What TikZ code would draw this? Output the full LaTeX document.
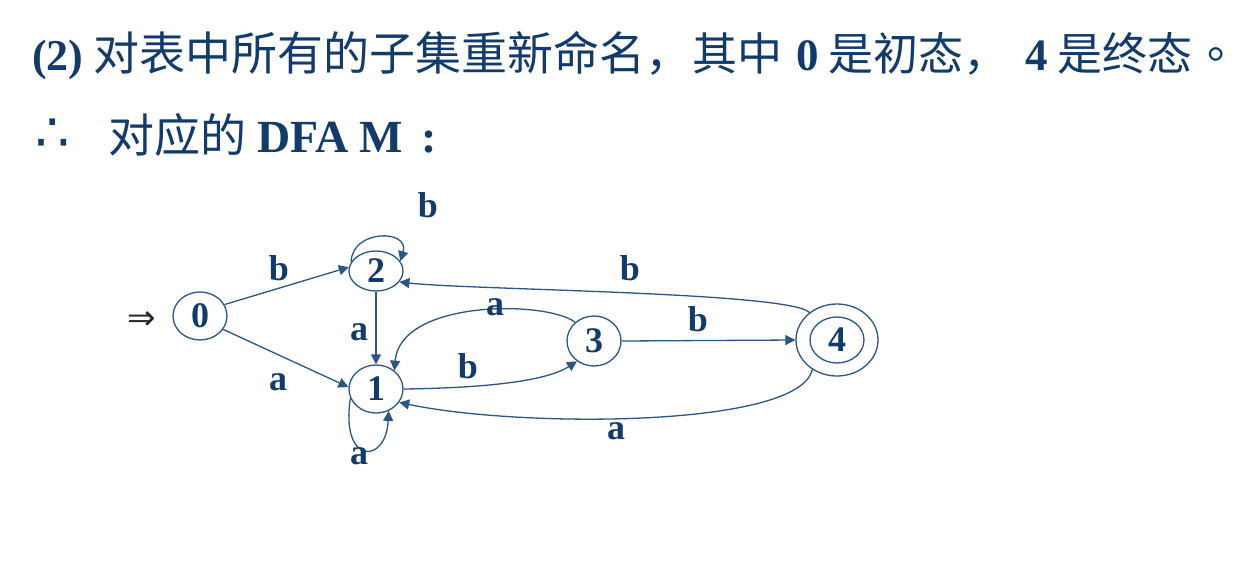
\documentclass[tikz,border=0pt]{standalone}
\usepackage{fontspec}
\setmainfont{Liberation Serif}
\newfontfamily\cjk{Noto Sans CJK SC}
\newfontfamily\cjktc{Noto Sans CJK TC}
\newfontfamily\dejavu{DejaVu Sans}
\usetikzlibrary{shapes.geometric,arrows.meta}
\definecolor{textblue}{HTML}{123B6B}
\definecolor{lineblue}{HTML}{2B5585}
\begin{document}
\begin{tikzpicture}[x=1pt,y=-1pt,
  st/.style={ellipse,draw=lineblue,line width=1.3pt,inner sep=0pt,text=textblue,
    font=\fontsize{36}{36}\selectfont\bfseries,minimum width=54pt,minimum height=48pt},
  lbl/.style={text=textblue,inner sep=0pt,font=\fontsize{36}{36}\selectfont\bfseries},
  edge/.style={draw=lineblue,line width=1.3pt,-{Triangle[length=10pt,width=10pt]}},
  ttl/.style={text=textblue,inner sep=0pt,anchor=base west,font=\fontsize{45}{45}\selectfont\bfseries},
  ttlc/.style={ttl,font=\cjk\fontsize{45}{45}\selectfont}]
\useasboundingbox (0,0) rectangle (1251,576);
% title line 1
\node[ttl,font=\fontsize{44}{44}\selectfont\bfseries] (t1a) at (32,70) {(2)};
\node[ttlc,font=\cjk\fontsize{46}{46}\selectfont] (t1b) at (93,70) {对表中所有的子集重新命名，};
\node[ttlc] (t1c) at (692,70) {其中};
\node[ttl] (t1d) at (796,70) {0};
\node[ttlc] (t1e) at (828,70) {是初态，};
\node[ttl] (t1f) at (1025,70) {4};
\node[ttlc] (t1g) at (1057,70) {是终态};
\node[text=textblue,inner sep=0pt,font=\cjktc\fontsize{45}{45}\selectfont] (t1h) at (1216,60) {。};
% title line 2
\node[text=textblue,inner sep=0pt,font=\dejavu\fontsize{54}{54}\selectfont] (th) at (53,135) {∴};
\node[ttlc,font=\cjk\fontsize{46}{46}\selectfont] (t2a) at (108,152) {对应的};
\node[ttl,font=\fontsize{46}{46}\selectfont\bfseries] (t2b) at (257,152) {DFA M};
\node[ttl,font=\fontsize{46}{46}\selectfont\bfseries] (t2c) at (421,152) {:};
% states
\node[st] (0) at (200,316) {0};
\node[st,minimum height=40pt] (2) at (376,271) {2};
\node[st] (1) at (376,389) {1};
\node[st,minimum height=50pt] (3) at (594,341) {3};
\node[st,minimum width=82pt,minimum height=72pt] (4) at (837,340) {};
\node[st,minimum height=46pt] (4i) at (837,340) {4};
% start arrow
\node[inner sep=0pt,text=black!85,font=\dejavu\fontsize{34}{34}\selectfont] (start) at (142,321) {⇒};
% edges
\draw[edge] (0.25) -- (2.172);
\draw[edge] (0.-30) -- (1.176);
\draw[edge] (2.south) -- (1.north);
\draw[edge] (2.160) .. controls (352,229) and (410,229) .. (2.22);
\draw[edge] (1.200) .. controls (340,465) and (386,465) .. (1.-60);
\draw[edge] (1.east) .. controls (480,388) and (545,382) .. (3.-130);
\draw[edge] (3.135) .. controls (545,300) and (400,300) .. (1.45);
\draw[edge] (3.east) -- (4.west);
\draw[edge] (4.135) .. controls (790,292) and (470,290) .. (2.-25);
\draw[edge] (4.-130) .. controls (800,428) and (520,428) .. (1.-30);
% labels
\node[lbl] (l1) at (428,205) {b};
\node[lbl] (l2) at (279,268) {b};
\node[lbl] (l3) at (278,382) {a};
\node[lbl] (l4) at (359,332) {a};
\node[lbl] (l5) at (359,456) {a};
\node[lbl] (l6) at (495,307) {a};
\node[lbl] (l7) at (468,366) {b};
\node[lbl] (l8) at (630,268) {b};
\node[lbl] (l9) at (698,319) {b};
\node[lbl] (l10) at (616,431) {a};
\end{tikzpicture}
\end{document}
